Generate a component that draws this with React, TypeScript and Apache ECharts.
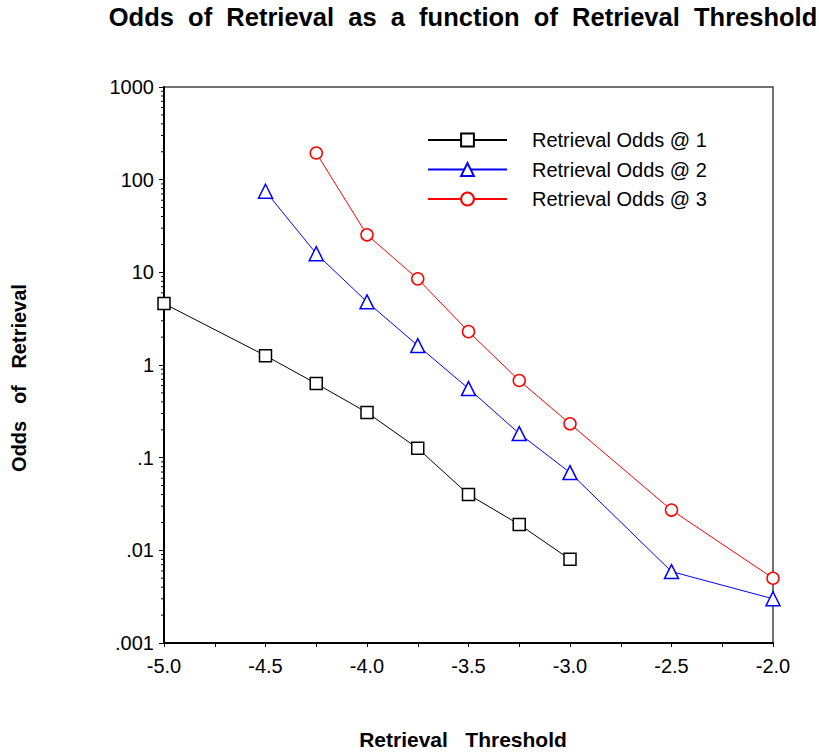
import React, { useEffect, useRef } from "react";
import * as echarts from "echarts";

const thresholds1 = [-5.0, -4.5, -4.25, -4.0, -3.75, -3.5, -3.25, -3.0];
const odds1 = [4.6, 1.26, 0.63, 0.307, 0.126, 0.040, 0.019, 0.008];

const thresholds2 = [-4.5, -4.25, -4.0, -3.75, -3.5, -3.25, -3.0, -2.5, -2.0];
const odds2 = [75, 15.9, 4.8, 1.62, 0.557, 0.182, 0.069, 0.0059, 0.003];

const thresholds3 = [-4.25, -4.0, -3.75, -3.5, -3.25, -3.0, -2.5, -2.0];
const odds3 = [194, 25.4, 8.5, 2.29, 0.68, 0.232, 0.0272, 0.005];

const seriesNames = ["Retrieval Odds @ 1", "Retrieval Odds @ 2", "Retrieval Odds @ 3"];
const seriesColors = ["#000000", "#0000ff", "#ff0000"];
const seriesSymbols = ["rect", "triangle", "circle"];

const yTickLabels = [".001", ".01", ".1", "1", "10", "100", "1000"];
const yMinorMultipliers = [2, 3, 4, 5, 6, 7, 8, 9];

const titleText = "Odds  of  Retrieval  as  a  function  of  Retrieval  Threshold";
const xTitle = "Retrieval   Threshold";
const yTitle = "Odds   of   Retrieval";

const FONT = "Liberation Sans, Arial, Helvetica, sans-serif";

export default function App() {
  const ref = useRef<HTMLDivElement>(null);

  useEffect(() => {
    if (!ref.current) return;
    const chart = echarts.init(ref.current, null, { renderer: "svg" });

    const minorTicks: number[][] = [];
    for (let e = -3; e < 3; e++) {
      for (const m of yMinorMultipliers) minorTicks.push([-5, m * Math.pow(10, e)]);
    }

    const makeSeries = (i: number, xs: number[], ys: number[]) => ({
      name: seriesNames[i],
      type: "line",
      data: xs.map((x, k) => [x, ys[k]]),
      symbol: seriesSymbols[i],
      symbolSize: i === 1 ? 14 : 12,
      showSymbol: true,
      lineStyle: { color: seriesColors[i], width: 1 },
      itemStyle: { color: "#ffffff", borderColor: seriesColors[i], borderWidth: 1.5 },
      emphasis: { disabled: true },
      z: 3,
    });

    chart.setOption({
      animation: false,
      backgroundColor: "#ffffff",
      title: {
        text: titleText,
        left: 463,
        textAlign: "center",
        top: 4,
        padding: 0,
        textStyle: { fontFamily: FONT, fontSize: 25.5, fontWeight: "bold", color: "#000" },
      },
      grid: {
        left: 164,
        right: 46,
        top: 87,
        bottom: 104,
        show: true,
        borderColor: "#444",
        borderWidth: 1.5,
        backgroundColor: "transparent",
      },
      legend: {
        orient: "vertical",
        left: 422,
        top: 125,
        itemWidth: 79,
        itemHeight: 16,
        itemGap: 9.5,
        data: seriesNames,
        textStyle: {
          fontFamily: FONT,
          fontSize: 20,
          color: "#000",
          lineHeight: 20,
          padding: [0, 0, 0, 20],
        },
      },
      xAxis: {
        type: "value",
        min: -5,
        max: -2,
        interval: 0.25,
        name: xTitle,
        nameLocation: "middle",
        nameGap: 86,
        nameTextStyle: {
          fontFamily: FONT,
          fontSize: 21,
          fontWeight: "bold",
          color: "#000",
          padding: [0, 11, 0, 0],
        },
        axisLine: { show: true, lineStyle: { color: "#000", width: 2 } },
        axisTick: { show: true, length: 4, lineStyle: { color: "#000", width: 1 } },
        splitLine: { show: false },
        axisLabel: {
          fontFamily: FONT,
          fontSize: 20,
          color: "#000",
          margin: 13,
          formatter: (v: number) => (Math.abs(v * 2 - Math.round(v * 2)) < 1e-9 ? v.toFixed(1) : ""),
        },
      },
      yAxis: {
        type: "log",
        logBase: 10,
        min: 0.001,
        max: 1000,
        axisLine: { show: true, lineStyle: { color: "#000", width: 2 } },
        axisTick: { show: true, length: 5, lineStyle: { color: "#000", width: 1 } },
        splitLine: { show: false },
        axisLabel: {
          fontFamily: FONT,
          fontSize: 20,
          color: "#000",
          margin: 10,
          formatter: (v: number) => yTickLabels[Math.round(Math.log10(v)) + 3] ?? "",
        },
      },
      graphic: [
        {
          type: "text",
          x: 19,
          y: 378,
          rotation: Math.PI / 2,
          style: {
            text: yTitle,
            fontFamily: FONT,
            fontSize: 20,
            fontWeight: "bold",
            fill: "#000",
            align: "center",
            verticalAlign: "middle",
          },
        },
      ],
      series: [
        makeSeries(0, thresholds1, odds1),
        makeSeries(1, thresholds2, odds2),
        makeSeries(2, thresholds3, odds3),
        {
          type: "custom",
          name: "minorTicks",
          silent: true,
          clip: false,
          data: minorTicks,
          renderItem: (_params: any, api: any) => {
            const p = api.coord([api.value(0), api.value(1)]);
            return {
              type: "line",
              shape: { x1: p[0] - 3, y1: p[1], x2: p[0], y2: p[1] },
              style: { stroke: "#000", lineWidth: 1 },
            };
          },
        },
      ],
    });

    return () => chart.dispose();
  }, []);

  return (
    <div
      ref={ref}
      style={{ position: "fixed", left: 0, top: 0, width: 819, height: 755, background: "#fff" }}
    />
  );
}
